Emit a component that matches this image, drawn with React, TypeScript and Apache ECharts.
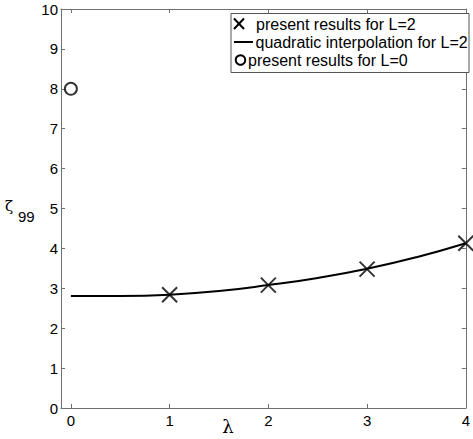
import React, { useEffect, useRef } from "react";
import * as echarts from "echarts";

const xTicks = [0, 1, 2, 3, 4];
const lineX = [0, 0.5, 1, 1.5, 2, 2.5, 3, 3.5, 4];
const lineY = [2.81, 2.81, 2.84, 2.93, 3.08, 3.26, 3.49, 3.78, 4.13];
const crossX = [1, 2, 3, 4];
const crossY = [2.84, 3.08, 3.48, 4.13];
const circleX = [0];
const circleY = [8];
const legendLabels = [
  "present results for L=2",
  "quadratic interpolation for L=2",
  "present results for L=0",
];

const AXIS_COLOR = "#707070";
const FONT = '"Liberation Sans", Arial, sans-serif';
const CROSS = "path://M0,0L10,10M10,0L0,10";

export default function App() {
  const ref = useRef<HTMLDivElement>(null);
  useEffect(() => {
    if (!ref.current) return;
    const chart = echarts.init(ref.current, undefined, { renderer: "svg" });
    const axisCommon = {
      type: "value" as const,
      axisLine: { show: true, onZero: false, lineStyle: { color: AXIS_COLOR, width: 1 } },
      axisTick: { show: true, inside: true, length: 4, lineStyle: { color: AXIS_COLOR } },
      splitLine: { show: false },
    };
    const xAxisBase = {
      ...axisCommon,
      min: -0.1,
      max: 4,
    };
    const yAxisBase = { ...axisCommon, min: 0, max: 10, interval: 1 };
    chart.setOption({
      animation: false,
      backgroundColor: "#fff",
      grid: { left: 61, right: 3, top: 9, bottom: 31, containLabel: false },
      xAxis: [
        {
          ...xAxisBase,
          position: "bottom",
          axisTick: { ...xAxisBase.axisTick, customValues: xTicks },
          axisLabel: {
            customValues: xTicks,
            color: "#000",
            fontSize: 15,
            fontFamily: FONT,
            margin: 5,
          },
        },
        {
          ...xAxisBase,
          position: "top",
          axisTick: { ...xAxisBase.axisTick, customValues: xTicks },
          axisLabel: { show: false },
        },
      ],
      yAxis: [
        {
          ...yAxisBase,
          position: "left",
          axisLabel: { color: "#000", fontSize: 15, fontFamily: FONT, margin: 3 },
        },
        {
          ...yAxisBase,
          position: "right",
          axisLabel: { show: false },
        },
      ],
      series: [
        {
          name: legendLabels[1],
          type: "line",
          data: lineX.map((x, i) => [x, lineY[i]]),
          smooth: true,
          symbol: "none",
          lineStyle: { color: "#000", width: 2 },
          z: 2,
        },
        {
          name: legendLabels[0],
          type: "scatter",
          data: crossX.map((x, i) => [x, crossY[i]]),
          symbol: CROSS,
          symbolSize: 15,
          itemStyle: { color: "#000", borderColor: "#000", borderWidth: 2 },
          z: 3,
        },
        {
          name: legendLabels[2],
          type: "scatter",
          data: circleX.map((x, i) => [x, circleY[i]]),
          symbol: "circle",
          symbolSize: 12,
          clip: false,
          itemStyle: { color: "#fff", borderColor: "#000", borderWidth: 2 },
          z: 3,
        },
      ],
      graphic: [
        {
          type: "rect",
          shape: { x: 231, y: 13.5, width: 238, height: 59 },
          style: { fill: "#fff", stroke: "#555", lineWidth: 1 },
          z: 10,
        },
        {
          type: "line",
          shape: { x1: 234, y1: 18.5, x2: 244, y2: 29 },
          style: { stroke: "#000", lineWidth: 2 },
          z: 11,
        },
        {
          type: "line",
          shape: { x1: 244, y1: 18.5, x2: 234, y2: 29 },
          style: { stroke: "#000", lineWidth: 2 },
          z: 11,
        },
        {
          type: "line",
          shape: { x1: 234, y1: 42, x2: 253, y2: 42 },
          style: { stroke: "#000", lineWidth: 2 },
          z: 11,
        },
        {
          type: "circle",
          shape: { cx: 240.5, cy: 60, r: 4.8 },
          style: { fill: "none", stroke: "#000", lineWidth: 2 },
          z: 11,
        },
        {
          type: "text",
          x: 256,
          y: 24,
          style: { text: legendLabels[0], fill: "#000", fontSize: 16, fontFamily: FONT, verticalAlign: "middle" },
          z: 11,
        },
        {
          type: "text",
          x: 255.5,
          y: 42,
          style: { text: legendLabels[1], fill: "#000", fontSize: 16, fontFamily: FONT, verticalAlign: "middle" },
          z: 11,
        },
        {
          type: "text",
          x: 248,
          y: 60,
          style: { text: legendLabels[2], fill: "#000", fontSize: 16, fontFamily: FONT, verticalAlign: "middle" },
          z: 11,
        },
        {
          type: "text",
          x: 228,
          y: 426,
          style: {
            text: "λ",
            fill: "#000",
            fontSize: 18,
            fontFamily: '"DejaVu Serif", serif',
            align: "center",
            verticalAlign: "middle",
          },
        },
        {
          type: "text",
          x: 5,
          y: 206,
          style: {
            text: "ζ",
            fill: "#000",
            fontSize: 15,
            fontFamily: '"DejaVu Serif", serif',
            verticalAlign: "middle",
          },
        },
        {
          type: "text",
          x: 18,
          y: 216,
          style: {
            text: "99",
            fill: "#000",
            fontSize: 15,
            fontFamily: FONT,
            verticalAlign: "middle",
          },
        },
      ],
    });
    return () => chart.dispose();
  }, []);
  return <div ref={ref} style={{ width: 473, height: 439, position: "absolute", left: 0, top: 0 }} />;
}
